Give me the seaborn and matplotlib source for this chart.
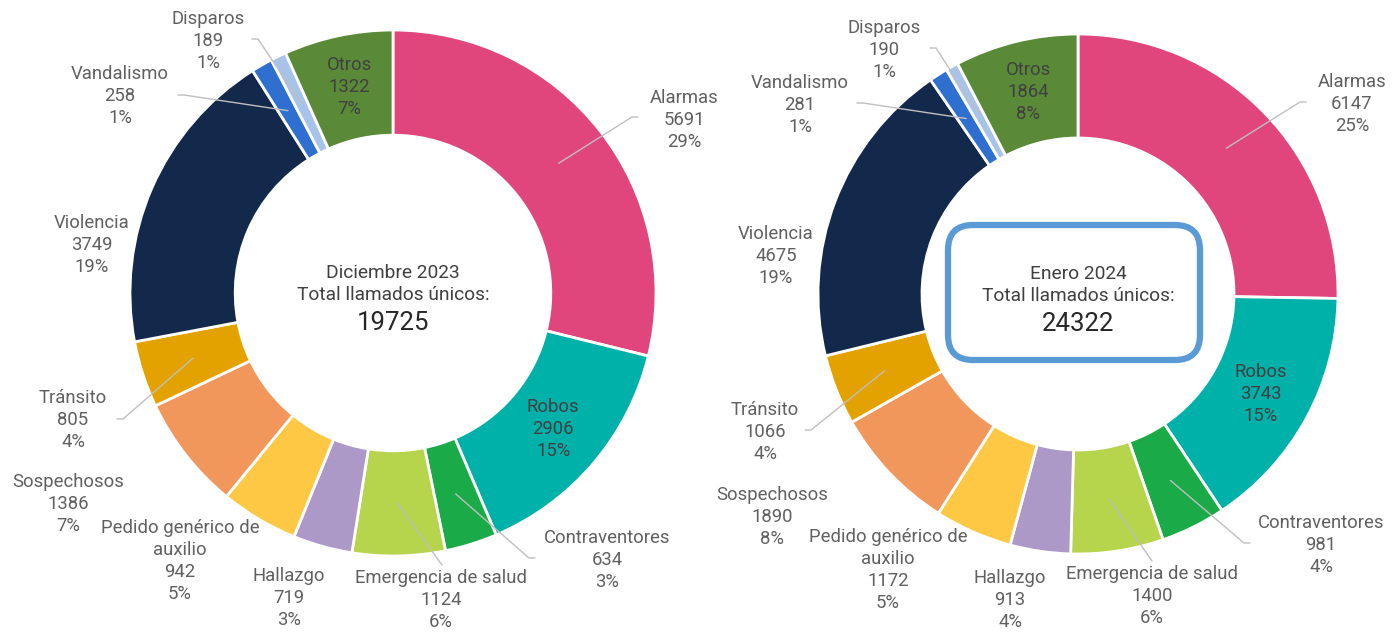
import numpy as np
import seaborn as sns
import matplotlib.pyplot as plt
from matplotlib.patches import FancyBboxPatch

# Data
categorias = ["Alarmas", "Robos", "Contraventores", "Emergencia de salud", "Hallazgo",
              "Pedido genérico de\nauxilio", "Sospechosos", "Tránsito", "Violencia",
              "Vandalismo", "Disparos", "Otros"]
dic_2023 = [5691, 2906, 634, 1124, 719, 942, 1386, 805, 3749, 258, 189, 1322]
dic_pct = [29, 15, 3, 6, 3, 5, 7, 4, 19, 1, 1, 7]
ene_2024 = [6147, 3743, 981, 1400, 913, 1172, 1890, 1066, 4675, 281, 190, 1864]
ene_pct = [25, 15, 4, 6, 4, 5, 8, 4, 19, 1, 1, 8]

colores = sns.color_palette(["#E0467C", "#00B1A9", "#1AAB48", "#B6D44C", "#AC99C8",
                             "#FFC844", "#F2975B", "#E4A200", "#13294B", "#2E6FD0",
                             "#A7C3EA", "#5A8A37"])

sns.set_theme(style="white")
plt.rcParams["font.family"] = ["Roboto", "DejaVu Sans"]

W, H = 1398, 633
fig = plt.figure(figsize=(W / 100, H / 100), dpi=100)
ax = fig.add_axes([0, 0, 1, 1])

GRIS = "#606060"
OSCURO = "#404040"
LINEA = "#BFBFBF"

# layout: label centre (px, from top) and leader start, None = inside wedge
layout_izq = {
    "cx": 393, "cy": 293, "r": 263,
    "pos": [(684, 120, (638, 117)), None, (607, 560, (535, 558)), (441, 600, (442, 565)),
            (289, 598, None), (180, 561, None), (68, 504, None), (73, 420, (117, 419)),
            (92, 245, None), (120, 96, (178, 95)), (208, 41, (252, 39)), None],
}
layout_der = {
    "cx": 1078, "cy": 294, "r": 260,
    "pos": [(1352, 104, (1306, 102)), None, (1321, 545, (1250, 543)), (1152, 596, (1152, 561)),
            (1010, 600, None), (888, 570, None), (772, 517, None), (765, 432, (805, 430)),
            (776, 256, None), (800, 105, (857, 103)), (884, 50, (930, 48)), None],
}


def dibujar(valores, pcts, lay, titulo):
    cx, cy, r = lay["cx"], H - lay["cy"], lay["r"]
    ancho = r * 0.4
    ax.pie(valores, radius=r, center=(cx, cy), startangle=90, counterclock=False,
           colors=colores, wedgeprops=dict(width=ancho, edgecolor="white", linewidth=2))
    total = sum(valores)
    acum = np.cumsum([0] + list(valores))
    rm = r - ancho / 2
    for i, cat in enumerate(categorias):
        mid = np.deg2rad(90 - 360 * (acum[i] + valores[i] / 2) / total)
        px, py = cx + rm * np.cos(mid), cy + rm * np.sin(mid)
        txt = f"{cat}\n{valores[i]}\n{pcts[i]}%"
        p = lay["pos"][i]
        if p is None:
            ax.text(px, py, txt, ha="center", va="center", fontsize=13.3,
                    color=OSCURO, linespacing=1.28)
            continue
        tx, ty, anc = p
        ax.text(tx, H - ty, txt, ha="center", va="center", fontsize=13.3,
                color=GRIS, linespacing=1.28)
        if anc is not None:
            ax0, ay0 = anc[0], H - anc[1]
            codo = 0 if abs(ax0 - tx) < 5 else (-6 if px < ax0 else 6)
            ax.plot([ax0, ax0 + codo, px], [ay0, ay0, py], color=LINEA, lw=1, zorder=5)
    ax.text(cx, cy + 9, f"{titulo}\nTotal llamados únicos:", ha="center", va="center",
            fontsize=13.8, color=OSCURO, linespacing=1.22)
    ax.text(cx, cy - 30, f"{total}", ha="center", va="center", fontsize=18.5,
            color="#262626")


dibujar(dic_2023, dic_pct, layout_izq, "Diciembre 2023")
dibujar(ene_2024, ene_pct, layout_der, "Enero 2024")

caja = FancyBboxPatch((948 + 25, H - 360 + 25), 252 - 50, 135 - 50,
                      boxstyle="round,pad=25", fc="none", ec="#5B9BD5", lw=4.5, zorder=6)
ax.add_patch(caja)

ax.set_xlim(0, W)
ax.set_ylim(0, H)
ax.set_aspect("equal")
ax.axis("off")

fig.savefig("out.png", dpi=100)
